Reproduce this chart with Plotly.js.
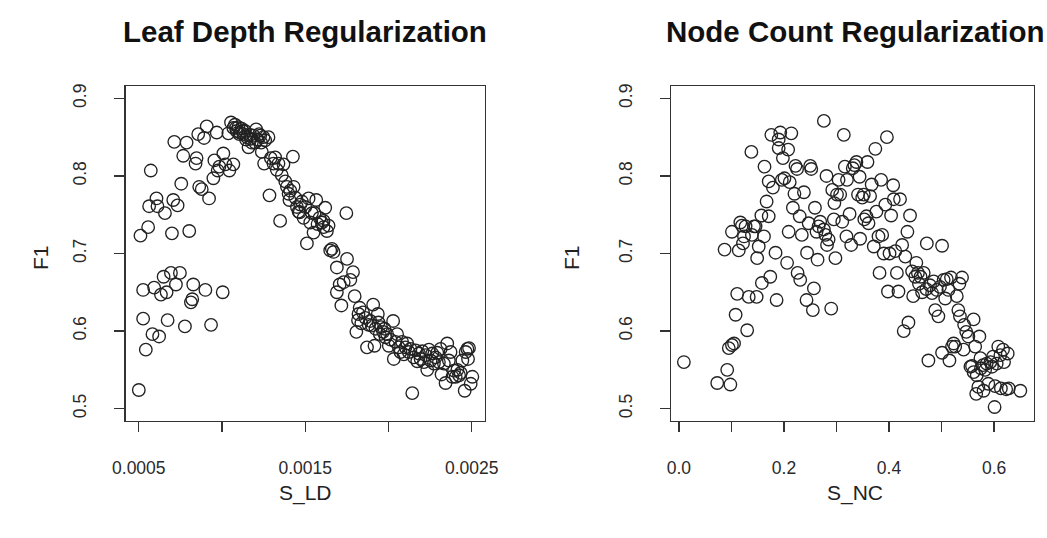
<!DOCTYPE html>
<html>
<head>
<meta charset="utf-8">
<script src="https://cdn.plot.ly/plotly-3.0.1.min.js"></script>
<style>html,body{margin:0;padding:0;background:#fff;}#chart{width:1047px;height:538px;}</style>
</head>
<body>
<div id="chart"></div>
<script>
// Leaf Depth Regularization: S_LD vs F1
const ldX = [0.000500,0.000510,0.000526,0.000526,0.000542,0.000556,0.000562,0.000572,0.000582,0.000592,
0.000606,0.000612,0.000622,0.000633,0.000649,0.000657,0.000667,0.000673,0.000693,0.000699,
0.000707,0.000713,0.000723,0.000733,0.000747,0.000755,0.000767,0.000777,0.000787,0.000803,
0.000813,0.000821,0.000827,0.000841,0.000847,0.000857,0.000863,0.000878,0.000892,0.000900,
0.000908,0.000922,0.000934,0.000948,0.000954,0.000968,0.000974,0.000984,0.001004,0.001008,
0.001020,0.001038,0.001044,0.001054,0.001068,0.001068,
0.001078,0.001088,0.001098,0.001108,0.001118,0.001128,0.001138,0.001149,0.001159,0.001169,
0.001179,0.001189,0.001205,0.001213,0.001223,0.001235,0.001239,0.001249,0.001259,0.001279,
0.001084,0.001104,0.001124,0.001144,0.001173,0.001199,0.001229,
0.001253,0.001285,0.001293,0.001309,0.001319,0.001329,0.001339,0.001349,0.001359,0.001369,
0.001380,0.001390,0.001400,0.001410,0.001426,0.001430,0.001440,0.001450,0.001460,0.001470,
0.001480,0.001490,0.001500,0.001510,0.001520,0.001530,0.001550,0.001556,0.001566,0.001574,
0.001586,0.001600,0.001610,0.001620,0.001630,0.001640,0.001650,0.001660,0.001670,0.001690,
0.001690,0.001707,0.001717,0.001731,0.001747,0.001751,0.001771,0.001787,0.001797,0.001807,
0.001817,0.001827,0.001837,0.001847,0.001861,0.001871,0.001881,0.001891,0.001908,0.001916,
0.001922,0.001936,0.001948,0.001956,0.001968,0.001982,0.001992,0.002002,0.002012,0.002028,
0.002032,0.002042,0.002052,0.002062,0.002072,0.002082,0.002092,0.002102,0.002112,0.002122,
0.002132,0.002143,0.002153,0.002163,0.002173,0.002183,0.002193,0.002203,0.002213,0.002223,
0.002233,0.002243,0.002253,0.002263,0.002273,0.002283,0.002293,0.002303,0.002313,0.002319,
0.002333,0.002343,0.002353,0.002363,0.002373,0.002384,0.002394,0.002404,0.002414,0.002424,
0.002434,0.002444,0.002458,0.002464,0.002474,0.002478,0.002484,0.002494,0.002504,
0.001405,0.001466,0.001540,0.001610,0.001820,0.001900,0.001940,0.001976];
const ldY = [0.524,0.723,0.653,0.616,0.576,0.734,0.761,0.807,0.596,0.656,
0.771,0.761,0.593,0.647,0.670,0.752,0.650,0.614,0.675,0.726,
0.769,0.844,0.660,0.762,0.675,0.790,0.826,0.606,0.843,0.729,
0.637,0.641,0.660,0.816,0.823,0.854,0.786,0.783,0.849,0.653,
0.864,0.771,0.608,0.797,0.820,0.856,0.807,0.812,0.650,0.829,
0.815,0.855,0.807,0.869,0.815,0.862,
0.866,0.858,0.863,0.856,0.861,0.854,0.858,0.850,0.837,0.853,
0.843,0.852,0.860,0.847,0.854,0.843,0.831,0.850,0.846,0.850,
0.862,0.854,0.858,0.847,0.848,0.843,0.852,
0.816,0.775,0.823,0.816,0.824,0.808,0.816,0.742,0.801,0.815,
0.793,0.786,0.777,0.781,0.825,0.786,0.772,0.760,0.754,0.763,
0.767,0.746,0.760,0.713,0.771,0.740,0.727,0.752,0.769,0.738,
0.746,0.740,0.734,0.759,0.729,0.736,0.704,0.706,0.702,0.682,
0.650,0.660,0.633,0.663,0.752,0.693,0.666,0.676,0.645,0.599,
0.614,0.630,0.610,0.624,0.617,0.579,0.608,0.613,0.634,0.581,
0.603,0.622,0.596,0.605,0.599,0.592,0.596,0.581,0.589,0.613,
0.564,0.586,0.596,0.579,0.573,0.586,0.570,0.579,0.584,0.573,
0.577,0.520,0.566,0.575,0.561,0.571,0.564,0.574,0.560,0.569,
0.550,0.576,0.562,0.571,0.558,0.566,0.572,0.560,0.577,0.544,
0.558,0.533,0.584,0.562,0.573,0.541,0.549,0.541,0.550,0.543,
0.546,0.562,0.523,0.573,0.577,0.564,0.578,0.532,0.541,
0.769,0.753,0.752,0.742,0.622,0.607,0.611,0.603];

// Node Count Regularization: S_NC vs F1
const ncX = [0.0095,0.073,0.087,0.092,0.098,0.095,0.101,0.105,0.101,0.108,
0.111,0.114,0.117,0.120,0.122,0.124,0.127,0.130,0.133,0.138,
0.139,0.143,0.146,0.148,0.149,0.152,0.157,0.158,0.162,0.163,
0.167,0.171,0.171,0.174,0.176,0.179,0.184,0.186,0.190,0.193,
0.190,0.196,0.198,0.201,0.206,0.208,0.211,0.214,0.209,0.217,
0.220,0.222,0.225,0.226,0.230,0.231,0.234,0.238,0.243,0.244,
0.247,0.250,0.252,0.255,0.257,0.259,0.262,0.264,0.266,0.269,
0.276,0.276,0.279,0.281,0.282,0.285,0.290,0.292,0.295,0.298,
0.296,0.301,0.304,0.307,0.311,0.314,0.316,0.319,0.320,0.325,
0.328,0.331,0.334,0.338,0.341,0.344,0.345,0.349,0.352,0.353,
0.357,0.359,0.361,0.364,0.367,0.371,0.374,0.376,0.380,0.382,
0.385,0.387,0.390,0.393,0.396,0.398,0.401,0.404,0.408,0.409,
0.412,0.415,0.418,0.421,0.425,0.428,0.431,0.435,0.437,0.440,
0.444,0.446,0.450,0.452,0.455,0.457,0.460,0.463,0.466,0.471,
0.472,0.475,0.478,0.482,0.485,0.488,0.491,0.494,0.497,0.501,
0.501,0.504,0.507,0.510,0.513,0.515,0.518,0.520,0.523,0.526,
0.529,0.532,0.534,0.535,0.539,0.542,0.543,0.547,0.551,0.555,
0.558,0.561,0.561,0.564,0.566,0.567,0.570,0.572,0.574,0.575,
0.579,0.580,0.583,0.586,0.589,0.593,0.596,0.598,0.601,0.602,
0.605,0.608,0.612,0.613,0.617,0.619,0.623,0.626,0.628,0.650];
const ncY = [0.560,0.533,0.705,0.550,0.531,0.578,0.582,0.584,0.728,0.621,
0.648,0.704,0.740,0.736,0.713,0.722,0.735,0.601,0.644,0.831,
0.724,0.735,0.735,0.644,0.694,0.709,0.749,0.662,0.722,0.812,
0.767,0.748,0.793,0.670,0.853,0.785,0.701,0.640,0.847,0.856,
0.836,0.795,0.823,0.797,0.688,0.834,0.792,0.855,0.728,0.759,
0.777,0.813,0.809,0.675,0.748,0.666,0.724,0.779,0.640,0.701,
0.739,0.813,0.809,0.627,0.655,0.759,0.728,0.692,0.735,0.741,
0.871,0.731,0.724,0.800,0.711,0.718,0.629,0.782,0.744,0.694,
0.765,0.776,0.795,0.776,0.741,0.853,0.812,0.722,0.795,0.751,
0.711,0.810,0.814,0.818,0.776,0.799,0.719,0.772,0.776,0.744,
0.748,0.818,0.739,0.774,0.789,0.709,0.835,0.754,0.722,0.675,
0.795,0.724,0.700,0.763,0.850,0.651,0.700,0.749,0.788,0.770,
0.703,0.675,0.651,0.770,0.711,0.600,0.696,0.728,0.611,0.749,
0.677,0.645,0.670,0.688,0.675,0.661,0.670,0.650,0.675,0.654,
0.713,0.562,0.659,0.649,0.664,0.627,0.653,0.619,0.657,0.710,
0.572,0.666,0.642,0.667,0.653,0.562,0.669,0.580,0.584,0.580,
0.645,0.627,0.661,0.619,0.669,0.576,0.608,0.599,0.593,0.554,
0.555,0.615,0.547,0.580,0.519,0.543,0.528,0.593,0.565,0.552,
0.556,0.523,0.550,0.558,0.532,0.560,0.554,0.567,0.502,0.529,
0.558,0.580,0.569,0.526,0.576,0.560,0.525,0.571,0.526,0.523];

const ldTicks = [0.0005,0.0010,0.0015,0.0020,0.0025];
const ldTickText = ["0.0005","","0.0015","","0.0025"];
const ncTicks = [0.0,0.1,0.2,0.3,0.4,0.5,0.6];
const ncTickText = ["0.0","","0.2","","0.4","","0.6"];
const yTicks = [0.5,0.6,0.7,0.8,0.9];
const yTickText = ["0.5","0.6","0.7","0.8","0.9"];

const W = 1047, H = 538;
const FONT = "Liberation Sans, Arial, Helvetica, sans-serif";
const marker = {symbol:'circle-open', size:12.5, color:'#222', line:{width:1.35, color:'#222'}};

const traces = [
  {x: ldX, y: ldY, type:'scatter', mode:'markers', marker: marker, xaxis:'x', yaxis:'y', hoverinfo:'x+y'},
  {x: ncX, y: ncY, type:'scatter', mode:'markers', marker: marker, xaxis:'x2', yaxis:'y2', hoverinfo:'x+y'}
];

const yDom = [(H-421)/H, (H-86)/H];
function xAxis(dom, range, tv, tt){
  return {domain: dom, range: range, tickvals: tv, ticktext: tt, ticks:'outside', ticklen:10, tickwidth:1.3,
    tickcolor:'#333', showline:true, mirror:true, linecolor:'#333', linewidth:1.4, showgrid:false, zeroline:false,
    tickfont:{family:FONT, size:17.5, color:'#2a2a2a'}, ticklabelstandoff:21, automargin:false, fixedrange:true};
}
function yAxis(anchor){
  return {domain: yDom, range:[0.484,0.916], tickvals:yTicks, ticktext:yTickText, tickangle:-90, ticks:'outside',
    ticklen:10, tickwidth:1.3, tickcolor:'#333', showline:true, mirror:true, linecolor:'#333', linewidth:1.4,
    showgrid:false, zeroline:false, tickfont:{family:FONT, size:17.5, color:'#2a2a2a'}, ticklabelstandoff:21,
    automargin:false, anchor: anchor, fixedrange:true};
}

const L = [125.5/W, 485/W], R = [671/W, 1034/W];
const layout = {
  width: W, height: H, margin:{l:0,r:0,t:0,b:0}, paper_bgcolor:'#fff', plot_bgcolor:'#fff', showlegend:false,
  xaxis: Object.assign(xAxis(L, [0.00042,0.00258], ldTicks, ldTickText), {anchor:'y'}),
  yaxis: yAxis('x'),
  xaxis2: Object.assign(xAxis(R, [-0.015,0.676], ncTicks, ncTickText), {anchor:'y2'}),
  yaxis2: yAxis('x2'),
  annotations: [
    {text:'<b>Leaf Depth Regularization</b>', xref:'paper', yref:'paper', x:305/W, y:1-32/H, xanchor:'center', yanchor:'middle', showarrow:false, font:{family:FONT, size:29.5, color:'#111'}},
    {text:'<b>Node Count Regularization</b>', xref:'paper', yref:'paper', x:855/W, y:1-32/H, xanchor:'center', yanchor:'middle', showarrow:false, font:{family:FONT, size:29.5, color:'#111'}},
    {text:'S_LD', xref:'paper', yref:'paper', x:305/W, y:1-493/H, xanchor:'center', yanchor:'middle', showarrow:false, font:{family:FONT, size:21, color:'#222'}},
    {text:'S_NC', xref:'paper', yref:'paper', x:855/W, y:1-493/H, xanchor:'center', yanchor:'middle', showarrow:false, font:{family:FONT, size:21, color:'#222'}},
    {text:'F1', xref:'paper', yref:'paper', x:40/W, y:1-258/H, xanchor:'center', yanchor:'middle', textangle:-90, showarrow:false, font:{family:FONT, size:21, color:'#222'}},
    {text:'F1', xref:'paper', yref:'paper', x:571/W, y:1-258/H, xanchor:'center', yanchor:'middle', textangle:-90, showarrow:false, font:{family:FONT, size:21, color:'#222'}}
  ]
};

Plotly.newPlot('chart', traces, layout, {displayModeBar:false, staticPlot:true});
</script>
</body>
</html>
